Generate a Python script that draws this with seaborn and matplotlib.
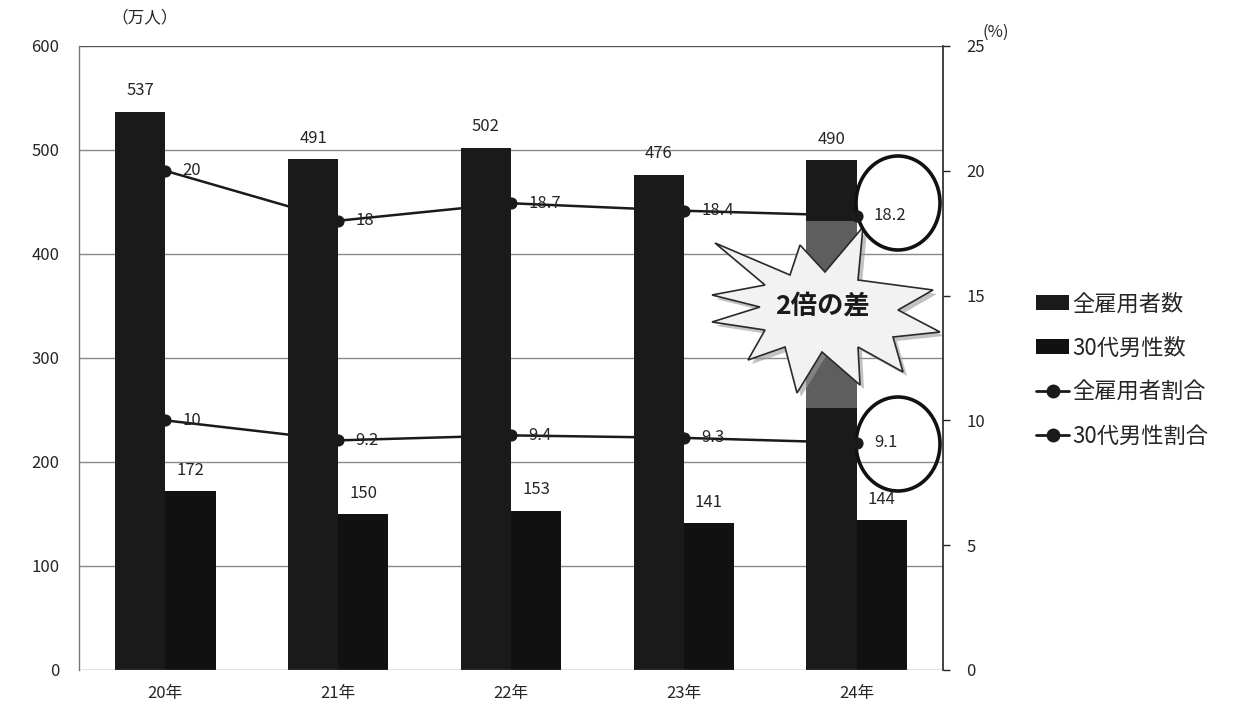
import numpy as np
import pandas as pd
import matplotlib
matplotlib.use("Agg")
import matplotlib.pyplot as plt
from matplotlib.patches import Polygon, Ellipse, Patch
from matplotlib.lines import Line2D
import seaborn as sns

# ---- data ----
years = ["20年", "21年", "22年", "23年", "24年"]
employees_all = [537, 491, 502, 476, 490]      # 全雇用者数 (万人)
men_30s = [172, 150, 153, 141, 144]            # 30代男性数 (万人)
rate_all = [20, 18, 18.7, 18.4, 18.2]          # 全雇用者割合 (%)
rate_men_30s = [10, 9.2, 9.4, 9.3, 9.1]        # 30代男性割合 (%)
series_names = ["全雇用者数", "30代男性数", "全雇用者割合", "30代男性割合"]
highlight_span = (252, 432)                    # shaded part of the 24年 bar

sns.set_theme(style="white")
plt.rcParams["font.family"] = ["Noto Sans CJK JP", "DejaVu Sans"]

W, H = 1241, 707
fig = plt.figure(figsize=(W / 100, H / 100), dpi=100)
fig.patch.set_facecolor("white")
L, R, T, B = 79, 943, 46, 670
ax = fig.add_axes([L / W, 1 - B / H, (R - L) / W, (B - T) / H])

df = pd.DataFrame({
    "year": years * 2,
    "value": employees_all + men_30s,
    "series": [series_names[0]] * 5 + [series_names[1]] * 5,
})
bar_colors = ["#1a1a1a", "#111111"]
sns.barplot(data=df, x="year", y="value", hue="series", palette=bar_colors,
            width=0.58, gap=0, saturation=1, ax=ax, legend=False, zorder=2,
            edgecolor="none")

bw = 0.29
# highlighted segment on the last total bar
ax.bar(4 - bw / 2, highlight_span[1] - highlight_span[0], bottom=highlight_span[0],
       width=bw, color="#5e5e5e", zorder=2.5, linewidth=0)

ax.set_ylim(0, 600)
ax.set_xlim(-0.5, 4.5)
ax.set_yticks(range(0, 601, 100))
ax.set_xlabel("")
ax.set_ylabel("")
for v in range(100, 601, 100):
    ax.axhline(v, color="#8a8a8a" if v < 600 else "#555555", lw=1.0, zorder=1)
ax.axhline(0, color="#777777", lw=1.0, zorder=3)
for s in ["top", "right", "bottom"]:
    ax.spines[s].set_visible(False)
ax.spines["left"].set_color("#777777")
ax.spines["left"].set_linewidth(1.0)
ax.tick_params(axis="y", length=0, pad=14, labelsize=12)
ax.tick_params(axis="x", length=0, pad=11, labelsize=12)

# bar value labels
for i in range(len(years)):
    ax.text(i - bw / 2, employees_all[i] + 12, str(employees_all[i]),
            ha="center", va="bottom", fontsize=12, zorder=6)
    ax.text(i + bw / 2, men_30s[i] + 12, str(men_30s[i]),
            ha="center", va="bottom", fontsize=12, zorder=6)

# ---- rates on the secondary axis ----
ax2 = ax.twinx()
xs = np.arange(len(years))
for rates in (rate_all, rate_men_30s):
    sns.lineplot(x=xs, y=rates, ax=ax2, color="#1a1a1a", lw=1.8, marker="o",
                 markersize=8, markeredgecolor="#1a1a1a", zorder=4)
    for i, r in enumerate(rates):
        ax2.text(xs[i] + 0.1, r, f"{r:g}", ha="left", va="center",
                 fontsize=12, zorder=6)
ax2.set_ylim(0, 25)
ax2.set_yticks(range(0, 26, 5))
ax2.spines["right"].set_color("#222222")
ax2.spines["right"].set_linewidth(1.2)
for s in ["top", "left", "bottom"]:
    ax2.spines[s].set_visible(False)
ax2.tick_params(axis="y", direction="out", length=5, width=1, color="#222222",
                pad=12, labelsize=12, right=True)
ax2.set_ylabel("")

# unit captions
fig.text(145 / W, 1 - 18 / H, "（万人）", ha="center", va="center", fontsize=12)
fig.text(996 / W, 1 - 32 / H, "(%)", ha="center", va="center", fontsize=12)

# ---- call-out: starburst and circles (drawn in pixel space) ----
px_per_x = (R - L) / 5.0
px_per_y = (B - T) / 600.0


def px_to_data(px, py):
    return ((px - L) / px_per_x - 0.5, (B - py) / px_per_y)


star_px = [
    (715, 243), (790, 275), (800, 245), (825, 272), (863, 227), (858, 280),
    (933, 290), (898, 310), (940, 332), (893, 337), (903, 372), (858, 347),
    (860, 385), (822, 352), (797, 393), (785, 347), (748, 360), (765, 330),
    (712, 322), (760, 307), (712, 295), (765, 285),
]

shadow = Polygon([px_to_data(x + 4, y + 4) for x, y in star_px], closed=True,
                 facecolor="#9a9a9a", edgecolor="none", alpha=0.6, zorder=7)
star = Polygon([px_to_data(x, y) for x, y in star_px], closed=True,
               facecolor="#f2f2f2", edgecolor="#2a2a2a", lw=1.2, zorder=8)
ax.add_patch(shadow)
ax.add_patch(star)
tx, ty = px_to_data(822, 307)
ax.text(tx, ty, "2倍の差", ha="center", va="center", fontsize=19,
        fontweight="bold", color="#1a1a1a", zorder=9)

for ecy in (203, 444):
    ex, ey = px_to_data(898, ecy)
    ax.add_patch(Ellipse((ex, ey), 84 / px_per_x, 94 / px_per_y, fill=False,
                         edgecolor="#111111", lw=2.6, zorder=9))

# ---- legend ----
handles = [
    Patch(facecolor=bar_colors[0], edgecolor="none"),
    Patch(facecolor=bar_colors[1], edgecolor="none"),
    Line2D([], [], color="#1a1a1a", lw=2, marker="o", markersize=9),
    Line2D([], [], color="#1a1a1a", lw=2, marker="o", markersize=9),
]
fig.legend(handles, series_names, loc="center left",
           bbox_to_anchor=(1016 / W, 1 - 370 / H), frameon=False, fontsize=16,
           handlelength=1.5, handleheight=0.7, handletextpad=0.15,
           labelspacing=0.95)

fig.savefig("out.png", dpi=100, facecolor="white")
